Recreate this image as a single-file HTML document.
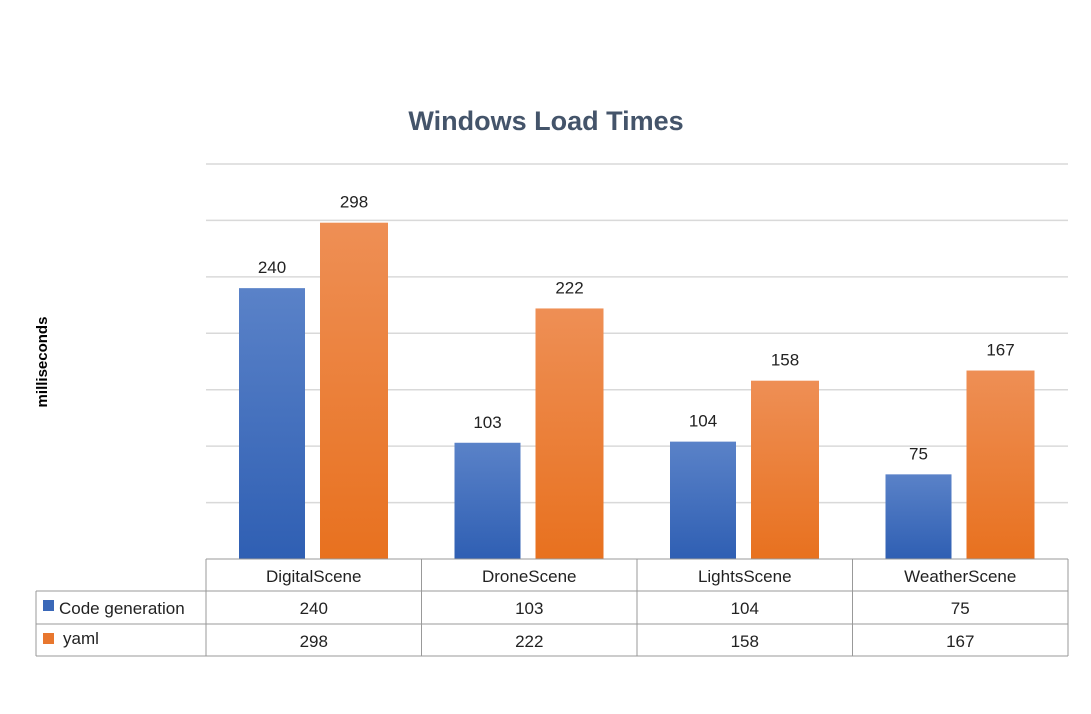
<!DOCTYPE html>
<html><head><meta charset="utf-8"><style>
body{margin:0;background:#fff;font-family:"Liberation Sans",sans-serif}
svg text{font-family:"Liberation Sans",sans-serif}
</style></head><body>
<svg width="1091" height="709" viewBox="0 0 1091 709">
<defs>
<linearGradient id="gb" x1="0" y1="0" x2="0" y2="1"><stop offset="0" stop-color="#5a82c8"/><stop offset="1" stop-color="#2f5fb3"/></linearGradient>
<linearGradient id="go" x1="0" y1="0" x2="0" y2="1"><stop offset="0" stop-color="#ee8f55"/><stop offset="1" stop-color="#e8711f"/></linearGradient>
</defs>
<text x="546" y="130" text-anchor="middle" font-size="27" font-weight="bold" fill="#44546a">Windows Load Times</text>
<text transform="translate(47,362) rotate(-90)" text-anchor="middle" font-size="15" font-weight="bold" fill="#000">milliseconds</text>
<g id="grid"></g><g id="bars"></g><g id="table"></g>
</svg>
<script>
const categories=["DigitalScene","DroneScene","LightsScene","WeatherScene"];
const codeGen=[240,103,104,75];
const yaml=[298,222,158,167];
const seriesNames=["Code generation","yaml"];
const yMax=350, yStep=50;
const NS="http://www.w3.org/2000/svg";
const X0=206,X1=1068,Y0=559,YT=164;
const cw=(X1-X0)/categories.length;
const y=v=>Y0-(v/yMax)*(Y0-YT);
function mk(tag,attrs,parent,txt){const e=document.createElementNS(NS,tag);for(const k in attrs)e.setAttribute(k,attrs[k]);if(txt!==undefined)e.textContent=txt;parent.appendChild(e);return e;}
const grid=document.getElementById('grid'),bars=document.getElementById('bars'),tbl=document.getElementById('table');
for(let v=yStep;v<=yMax;v+=yStep){const l=mk('line',{x1:X0,x2:X1,y1:y(v),y2:y(v),stroke:'#d9d9d9','stroke-width':1.5},grid);

}
const series=[codeGen,yaml],fills=['url(#gb)','url(#go)'],offs=[33,114],ws=[66,68];
categories.forEach((c,i)=>{
 series.forEach((s,j)=>{
  const bx=X0+cw*i+offs[j];
  const r=mk('rect',{x:bx,y:y(s[i]),width:ws[j],height:Y0-y(s[i]),fill:fills[j]},bars);
  
  
  const t=mk('text',{x:bx+ws[j]/2,y:y(s[i])-15,'text-anchor':'middle','font-size':17,fill:'#222'},bars,s[i]);
  
  
 });
});
// data table
const rows=[559,591,624,656],L=36;
const st={stroke:'#999','stroke-width':1,fill:'none'};
mk('line',Object.assign({x1:X0,x2:X1,y1:rows[0],y2:rows[0]},st),tbl);
for(let r=1;r<4;r++)mk('line',Object.assign({x1:L,x2:X1,y1:rows[r],y2:rows[r]},st),tbl);
mk('line',Object.assign({x1:L,x2:L,y1:rows[1],y2:rows[3]},st),tbl);
for(let i=0;i<=categories.length;i++)mk('line',Object.assign({x1:X0+cw*i,x2:X0+cw*i,y1:rows[0],y2:rows[3]},st),tbl);
categories.forEach((c,i)=>{const t=mk('text',{x:X0+cw*(i+.5),y:582,'text-anchor':'middle','font-size':17,fill:'#222'},tbl,c);


series.forEach((s,j)=>{const v=mk('text',{x:X0+cw*(i+.5),y:614+j*33,'text-anchor':'middle','font-size':17,fill:'#222'},tbl,s[i]);

});});
['#3a68b8','#e8772e'].forEach((col,j)=>{
 const k=mk('rect',{x:43,y:600+j*33,width:11,height:11,fill:col},tbl);
 
 
 const t=mk('text',{x:j?63:59,y:614+j*33-(j?3:0),'font-size':17,fill:'#222'},tbl,seriesNames[j]);
 
 
});
</script>
</body></html>
